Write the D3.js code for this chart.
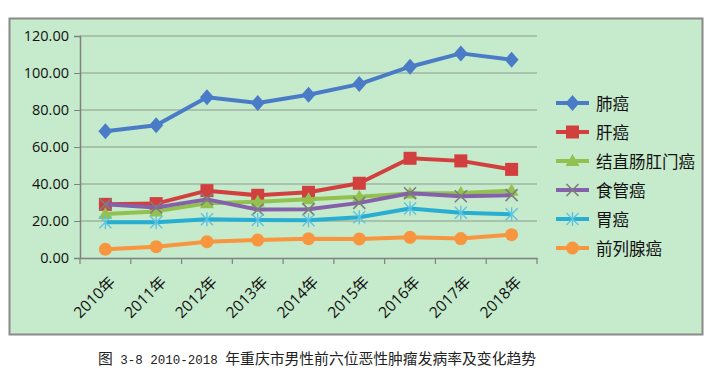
<!DOCTYPE html>
<html><head><meta charset="utf-8">
<script src="https://cdn.jsdelivr.net/npm/d3@7"></script>
<style>body{margin:0;background:#fff}svg{display:block}</style>
</head><body><svg id="c" width="711" height="389"></svg>
<script>
const years = ["2010年","2011年","2012年","2013年","2014年","2015年","2016年","2017年","2018年"];
const seriesNames = ["肺癌","肝癌","结直肠肛门癌","食管癌","胃癌","前列腺癌"];
const lung = [68.5,71.8,86.9,83.8,88.2,94.0,103.4,110.6,107.2];
const liver = [29.0,29.4,36.4,33.9,35.5,40.4,53.9,52.5,47.9];
const colorectal = [23.8,25.2,29.6,30.4,31.8,33.1,34.8,35.2,36.4];
const esophageal = [29.0,27.3,31.7,26.2,26.3,29.8,35.0,33.4,34.0];
const stomach = [19.3,19.3,21.0,20.5,20.4,22.0,26.8,24.4,23.6];
const prostate = [4.7,6.1,8.8,9.7,10.4,10.3,11.2,10.5,12.6];
const yTicks = [0,20,40,60,80,100,120];
const captionParts = ["图"," 3-8 2010-2018 ","年重庆市男性前六位恶性肿瘤发病率及变化趋势"];
const values = [lung, liver, colorectal, esophageal, stomach, prostate];
const colors = ["#4a7bc6","#d23f3f","#92c14f","#8461a8","#27aed2","#f7963f"];
const markers = ["diamond","square","triangle","x","star","circle"];

const svg = d3.select("#c");
svg.append("rect").attr("x",9.5).attr("y",18.5).attr("width",693).attr("height",316)
  .attr("fill","#c6eacc").attr("stroke","#8a8a8a").attr("stroke-width",2);

const x = d3.scaleBand().domain(years).range([80,537]);
const y = d3.scaleLinear().domain([0,120]).range([258,36]);

svg.append("g").selectAll("line").data(yTicks.filter(d=>d>0)).join("line")
  .attr("x1",80).attr("x2",537).attr("y1",d=>y(d)).attr("y2",d=>y(d))
  .attr("stroke","#8a9a8c").attr("stroke-width",1.2);

const yAxis = svg.append("g").attr("transform","translate(80,0)")
  .call(d3.axisLeft(y).tickValues(yTicks).tickFormat(d3.format(".2f")).tickSize(6));
yAxis.select(".domain").attr("stroke","#808080").attr("stroke-width",1.5);
yAxis.selectAll(".tick line").attr("stroke","#808080");
yAxis.selectAll("text").attr("font-family","'Open Sans','DejaVu Sans',sans-serif")
  .attr("font-size",14.5).attr("fill","#111").attr("x",-11);

const xAxis = svg.append("g").attr("transform","translate(0,258)")
  .call(d3.axisBottom(x).tickSize(0).tickFormat(""));
xAxis.select(".domain").attr("stroke","#808080").attr("stroke-width",1.5);
const bounds = years.map(d=>x(d)).concat([x.range()[1]]);
svg.append("g").selectAll("line").data(bounds).join("line")
  .attr("x1",d=>d).attr("x2",d=>d).attr("y1",258).attr("y2",264)
  .attr("stroke","#808080").attr("stroke-width",1.2);
svg.append("g").selectAll("text").data(years).join("text")
  .attr("transform",d=>`translate(${x(d)+x.bandwidth()/2+8},${280}) rotate(-45)`)
  .attr("text-anchor","end").attr("dominant-baseline","middle")
  .attr("font-family","'Open Sans','Noto Sans CJK SC',sans-serif").attr("font-size",15.5)
  .attr("fill","#111").text(d=>d);

function drawMarker(g, type, cx, cy, color){
  if(type==="diamond"){
    g.append("path").attr("d",`M${cx},${cy-8}L${cx+7},${cy}L${cx},${cy+8}L${cx-7},${cy}Z`).attr("fill",color);
  } else if(type==="square"){
    g.append("rect").attr("x",cx-6.5).attr("y",cy-6.5).attr("width",13).attr("height",13).attr("fill",color);
  } else if(type==="triangle"){
    g.append("path").attr("d",`M${cx},${cy-7}L${cx+7},${cy+5}L${cx-7},${cy+5}Z`).attr("fill",color);
  } else if(type==="x"){
    g.append("path").attr("d",`M${cx-6},${cy-6}L${cx+6},${cy+6}M${cx-6},${cy+6}L${cx+6},${cy-6}`)
      .attr("stroke","#7d7d7d").attr("stroke-width",1.6).attr("fill","none");
  } else if(type==="star"){
    g.append("path").attr("d",`M${cx-6},${cy-6}L${cx+6},${cy+6}M${cx-6},${cy+6}L${cx+6},${cy-6}M${cx},${cy-7}L${cx},${cy+7}`)
      .attr("stroke","#5fc3e0").attr("stroke-width",1.4).attr("fill","none");
  } else {
    g.append("circle").attr("cx",cx).attr("cy",cy).attr("r",6.5).attr("fill",color);
  }
}

const line = d3.line().x((d,i)=>x(years[i])+x.bandwidth()/2).y(d=>y(d));
values.forEach((vals,k)=>{
  const g = svg.append("g");
  g.append("path").datum(vals).attr("d",line).attr("fill","none")
    .attr("stroke",colors[k]).attr("stroke-width",4).attr("stroke-linejoin","round");
  vals.forEach((v,i)=>drawMarker(g, markers[k], x(years[i])+x.bandwidth()/2, y(v), colors[k]));
});

const lg = svg.append("g");
seriesNames.forEach((name,k)=>{
  const ly = 103 + k*29;
  lg.append("line").attr("x1",556).attr("x2",589).attr("y1",ly).attr("y2",ly)
    .attr("stroke",colors[k]).attr("stroke-width",4);
  drawMarker(lg, markers[k], 572.5, ly, colors[k]);
  lg.append("text").attr("x",596).attr("y",ly).attr("dominant-baseline","central")
    .attr("font-family","'Noto Sans CJK SC',sans-serif").attr("font-size",16.5)
    .attr("fill","#111").text(name);
});

const cap = svg.append("text").attr("x",317).attr("y",364).attr("text-anchor","middle")
  .attr("fill","#222").attr("xml:space","preserve").style("white-space","pre");
captionParts.forEach((p,i)=>{
  const cjk = i!==1;
  cap.append("tspan")
    .attr("font-family", cjk ? "'Noto Sans CJK SC',sans-serif" : "'Liberation Mono',monospace")
    .attr("font-size", cjk ? 14.8 : 12.5).text(p);
});
</script></body></html>
